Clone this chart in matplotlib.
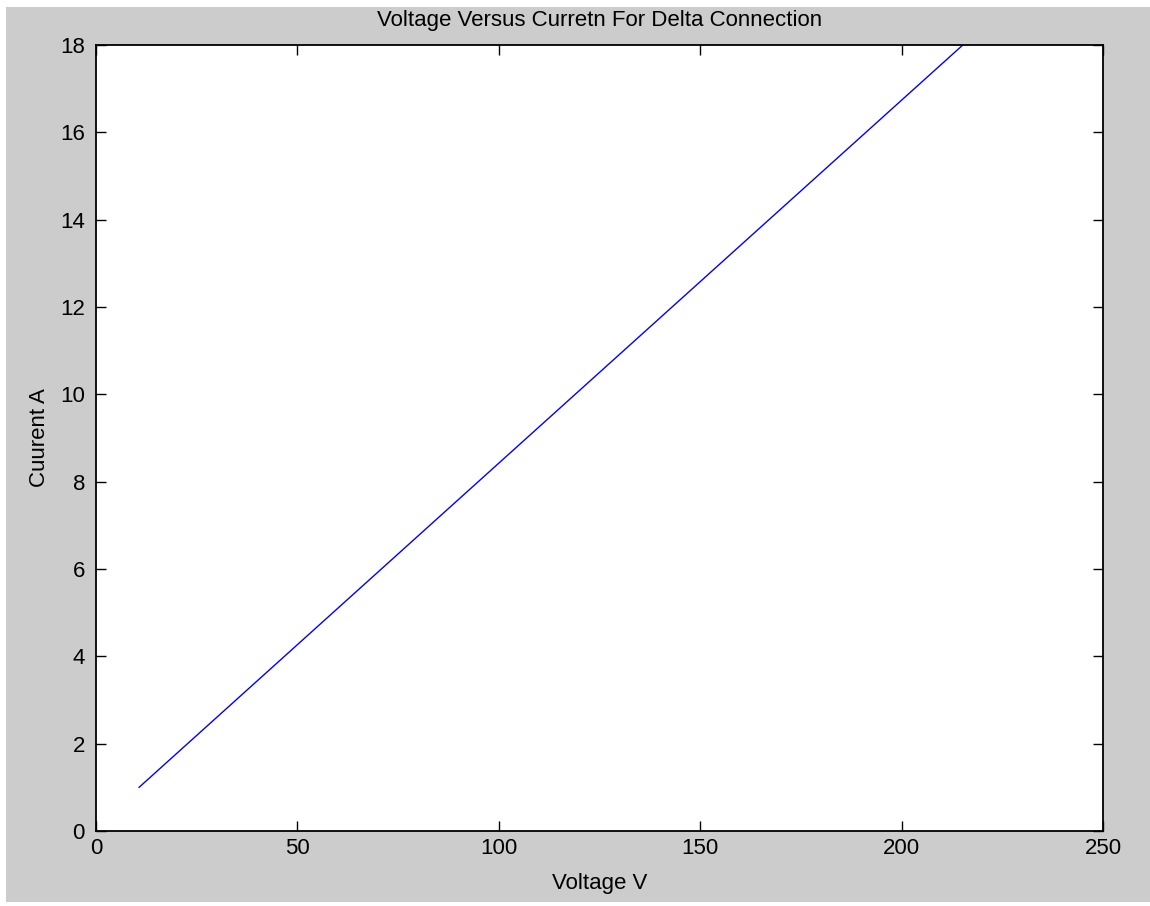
import matplotlib
matplotlib.use("Agg")
import matplotlib.pyplot as plt
from matplotlib.patches import Rectangle

# Данные
voltage = [10.7, 215.2]
current = [1.0, 18.0]

x_ticks = [0, 50, 100, 150, 200, 250]
y_ticks = [0, 2, 4, 6, 8, 10, 12, 14, 16, 18]

plt.rcParams['font.family'] = ['Liberation Sans', 'DejaVu Sans']
plt.rcParams['font.size'] = 16

fig = plt.figure(figsize=(11.5, 9.06), dpi=100, facecolor='white')

# Серый фон окна MATLAB с тонкой белой рамкой
bg = Rectangle((6 / 1150, 4 / 906), 1 - 6 / 1150, 1 - 11 / 906,
               transform=fig.transFigure, facecolor='#cccccc',
               edgecolor='none', zorder=-10)
fig.add_artist(bg)

ax = fig.add_axes([96 / 1150, 75 / 906, 1007 / 1150, 786 / 906])
ax.set_facecolor('white')

ax.plot(voltage, current, color='blue', linewidth=1.0)

ax.set_xlim(0, 250)
ax.set_ylim(0, 18)
ax.set_xticks(x_ticks)
ax.set_yticks(y_ticks)

ax.tick_params(direction='in', length=7, width=1, top=True, right=True,
               colors='black', labelsize=16)
ax.tick_params(axis='x', pad=5)
ax.tick_params(axis='y', pad=8)

for spine in ax.spines.values():
    spine.set_linewidth(1.3)

ax.set_title('Voltage Versus Curretn For Delta Connection', fontsize=16, pad=14)
ax.set_xlabel('Voltage V', fontsize=16, labelpad=10)
ax.set_ylabel('Cuurent A', fontsize=16, labelpad=7)

fig.savefig('out.png', dpi=100, facecolor=fig.get_facecolor())
